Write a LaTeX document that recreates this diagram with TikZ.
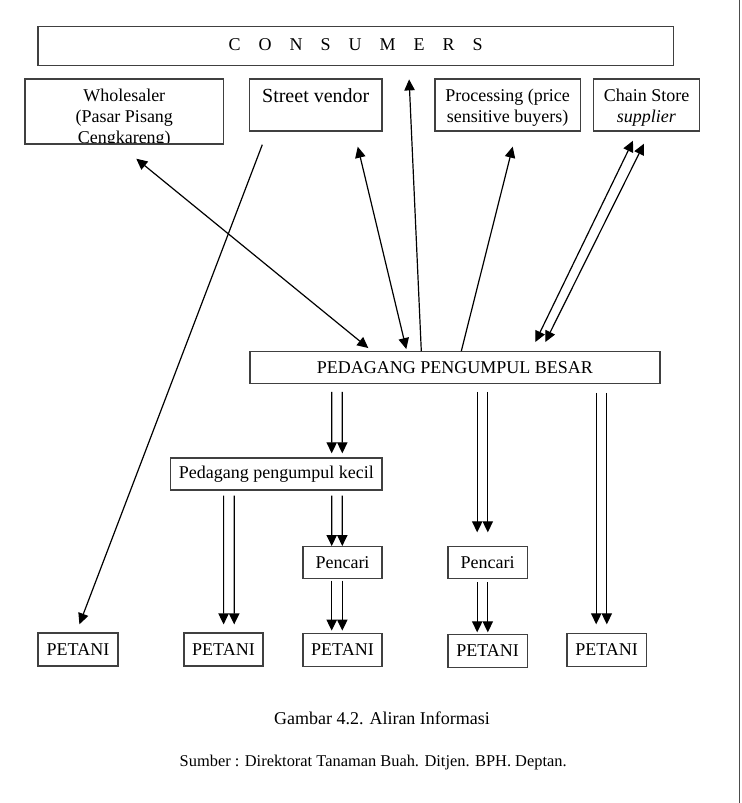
\documentclass[tikz,border=0pt]{standalone}
\usepackage{fontspec}
\setmainfont{Liberation Serif}
\usetikzlibrary{arrows.meta}

\tikzset{
  box/.style={draw=black!75,line width=0.7pt,inner sep=0pt,font=\fontsize{9}{10}\selectfont},
  boxtext/.style={draw=none,anchor=north,yshift=-4.5pt,inner sep=0pt,minimum width=0pt,minimum height=0pt,
    align=center,font=\fontsize{9}{10.5}\selectfont},
  conn/.style={line width=0.6pt},
}

\begin{document}
\begin{tikzpicture}[x=0.5pt,y=-0.5pt,>={Triangle[length=5.5pt,width=5.2pt]}]
\useasboundingbox (0,0) rectangle (741,803);
\draw[line width=0.7pt,color=black!70](739.5,0)--(739.5,803);

\node[box,minimum width=317.8pt,minimum height=19.5pt] (cons) at (355.6,46.2)
  {\raisebox{1.5pt}{C\quad O\quad N\quad S\quad U\quad M\quad E\quad R\quad S}};
\node[box,minimum width=99.25pt,minimum height=32.5pt,
  path picture={\node[boxtext] at (path picture bounding box.north) {Wholesaler\\(Pasar Pisang\\Cengkareng)};}] (whole) at (124.25,111.5) {};
\node[box,minimum width=66.25pt,minimum height=26pt,
  path picture={\node[boxtext,font=\fontsize{10}{11}\selectfont] at (path picture bounding box.north) {Street vendor};}] (vendor) at (315.75,105) {};
\node[box,minimum width=72.7pt,minimum height=26pt,
  path picture={\node[boxtext] at (path picture bounding box.north) {Processing (price\\sensitive buyers)};}] (proc) at (507.7,105) {};
\node[box,minimum width=52.9pt,minimum height=26pt,
  path picture={\node[boxtext] at (path picture bounding box.north) {Chain Store\\\textit{supplier}};}] (chain) at (646.5,105) {};

\node[box,minimum width=205pt,minimum height=15.75pt] (besar) at (455,367.5) {PEDAGANG PENGUMPUL BESAR};
\node[box,minimum width=105.7pt,minimum height=16pt] (kecil) at (276.3,474) {Pedagang pengumpul kecil};
\node[box,minimum width=39.5pt,minimum height=16pt] (pencari1) at (342.5,562.7) {Pencari};
\node[box,minimum width=39.7pt,minimum height=16pt] (pencari2) at (487.7,562.7) {Pencari};

\node[box,minimum width=40pt,minimum height=16.4pt] (petani1) at (78,649.4) {PETANI};
\node[box,minimum width=39.5pt,minimum height=16.4pt] (petani2) at (223.5,649.5) {PETANI};
\node[box,minimum width=39.5pt,minimum height=16.4pt] (petani3) at (342.5,650) {PETANI};
\node[box,minimum width=39.7pt,minimum height=16.4pt] (petani4) at (487.7,651) {PETANI};
\node[box,minimum width=39.7pt,minimum height=16.4pt] (petani5) at (606.7,650) {PETANI};

\node[font=\fontsize{9}{10}\selectfont,anchor=base] (caption) at (382,724) {Gambar 4.2. Aliran Informasi};
\node[font=\fontsize{8.2}{10}\selectfont,anchor=base] (source) at (373.2,766) {Sumber : Direktorat Tanaman Buah. Ditjen. BPH. Deptan.};

\draw[conn,<->]([shift={(12,14)}]whole.south)--([shift={(119,-3)}]besar.north west);
\draw[conn,<->]([shift={(42,15)}]vendor.south)--([shift={(157,-2)}]besar.north west);
\draw[conn,->]([shift={(172,0)}]besar.north west)--([shift={(372,13)}]cons.south west);
\draw[conn,->]([shift={(212,0)}]besar.north west)--([shift={(5,15)}]proc.south);
\draw[conn,<->]([shift={(286,-9)}]besar.north west)--([shift={(-13.5,9)}]chain.south);
\draw[conn,<->]([shift={(296,-9)}]besar.north west)--([shift={(-2.5,12)}]chain.south);
\draw[conn,->]([shift={(13.5,13)}]vendor.south west)--([shift={(1.4,-8)}]petani1.north);

\foreach \dx in {-5.3,5.3}{
  \draw[conn,->]([shift={(\dx-118,8)}]besar.south)--([shift={(\dx+60.7,-4)}]kecil.north);
  \draw[conn,->]([shift={(\dx+60.7,5)}]kecil.south)--([shift={(\dx-5.5,0)}]pencari1.north);
  \draw[conn,->]([shift={(\dx-5.5,1.3)}]pencari1.south)--([shift={(\dx-5.5,-2.3)}]petani3.north);
  \draw[conn,->]([shift={(\dx-47.4,5)}]kecil.south)--([shift={(\dx+5.4,-8)}]petani2.north);
  \draw[conn,->]([shift={(\dx+27.5,8)}]besar.south)--([shift={(\dx-5.2,-13.7)}]pencari2.north);
  \draw[conn,->]([shift={(\dx-5.2,3)}]pencari2.south)--([shift={(\dx-5.2,-1.6)}]petani4.north);
  \draw[conn,->]([shift={(\dx+146.5,9)}]besar.south)--([shift={(\dx-5.2,-8.6)}]petani5.north);
}
\end{tikzpicture}
\end{document}
